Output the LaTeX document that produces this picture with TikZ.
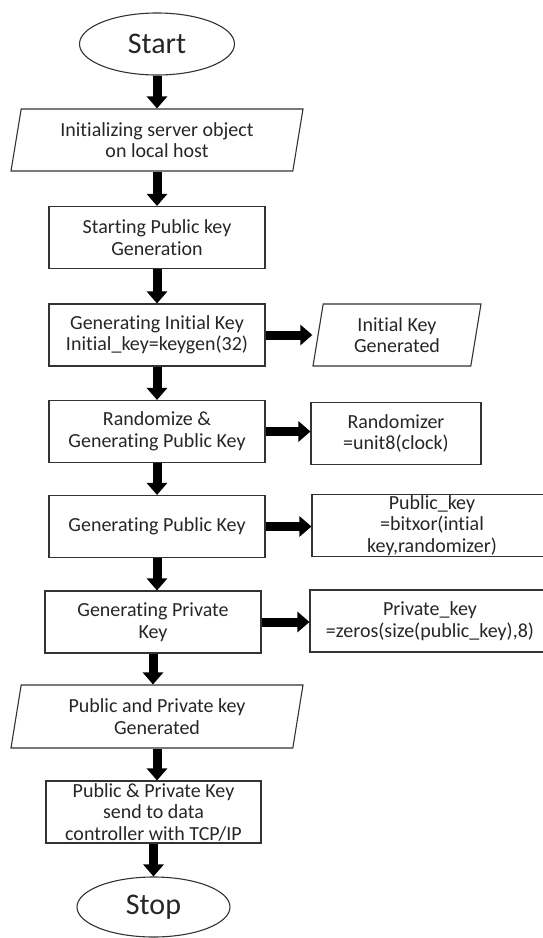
\documentclass[tikz,border=0pt]{standalone}
\usepackage{fontspec}
\setmainfont{Carlito}[Ligatures=NoCommon]
\usetikzlibrary{shapes.geometric,arrows.meta}

\tikzset{
  box/.style={draw=black!80, line width=1.1pt, rectangle, minimum width=216pt,
    minimum height=62pt, inner sep=0pt, align=center, text=black!85,
    font=\fontsize{20}{21.5}\selectfont},
  iobox/.style={box, trapezium, trapezium left angle=74, trapezium right angle=106,
    trapezium stretches body},
  term/.style={draw=black!80, line width=1.1pt, ellipse, minimum width=155pt,
    minimum height=62pt, inner sep=0pt, text=black!85,
    font=\fontsize{30}{32}\selectfont},
  fat/.style={line width=9pt, -{Triangle[width=20pt,length=12pt]}, black}
}

\begin{document}
\begin{tikzpicture}[x=1pt,y=-1pt]
\useasboundingbox (0,0) rectangle (543,938);
\clip (0,0) rectangle (543,938);

% Main column
\node[term] (start) at (157,44) {Start};
\node[iobox, minimum width=292pt] (init) at (157,140) {Initializing server object\\on local host};
\node[box] (pkgen) at (157,237.5) {Starting Public key\\Generation};
\node[box] (initkey) at (157,335) {Generating Initial Key\\Initial\_key=keygen(32)};
\node[box] (rand) at (157,431.5) {Randomize \&\\Generating Public Key};
\node[box] (pubkey) at (157,526.5) {Generating Public Key};
\node[box] (privkey) at (153,622) {Generating Private\\Key};
\node[iobox, minimum width=292pt, minimum height=63pt] (keysout) at (157,716.5) {Public and Private key\\Generated};
\node[box, minimum width=215pt] (send) at (153.5,812) {Public \& Private Key\\send to data\\controller with TCP/IP};
\node[term, minimum width=153pt, minimum height=60pt] (stop) at (153.5,907) {Stop};

% Side outputs
\node[iobox, minimum width=168pt] (initout) at (397,335) {Initial Key\\Generated};
\node[box, minimum width=170pt] (randout) at (396,433.5) {Randomizer\\=unit8(clock)};
\node[box, minimum width=270pt] (pubout) at (447,525.5) {\hspace*{-30pt}Public\_key\\\hspace*{-30pt}=bitxor(intial\\\hspace*{-30pt}key,randomizer)};
\node[box, minimum width=270pt] (privout) at (445,621) {\hspace*{-30pt}Private\_key\\\hspace*{-30pt}=zeros(size(public\_key),8)};

% Downward arrows
\foreach \a/\b in {start/init, init/pkgen, pkgen/initkey, initkey/rand, rand/pubkey,
    pubkey/privkey, privkey/keysout, keysout/send, send/stop}
  \draw[fat] (\a.south) -- (\a.south |- \b.north);

% Arrows to the side
\draw[fat] (initkey.east) -- (initkey.east -| initout.bottom left corner);
\foreach \a/\b in {rand/randout, pubkey/pubout, privkey/privout}
  \draw[fat] (\a.east) -- (\a.east -| \b.west);
\end{tikzpicture}
\end{document}
